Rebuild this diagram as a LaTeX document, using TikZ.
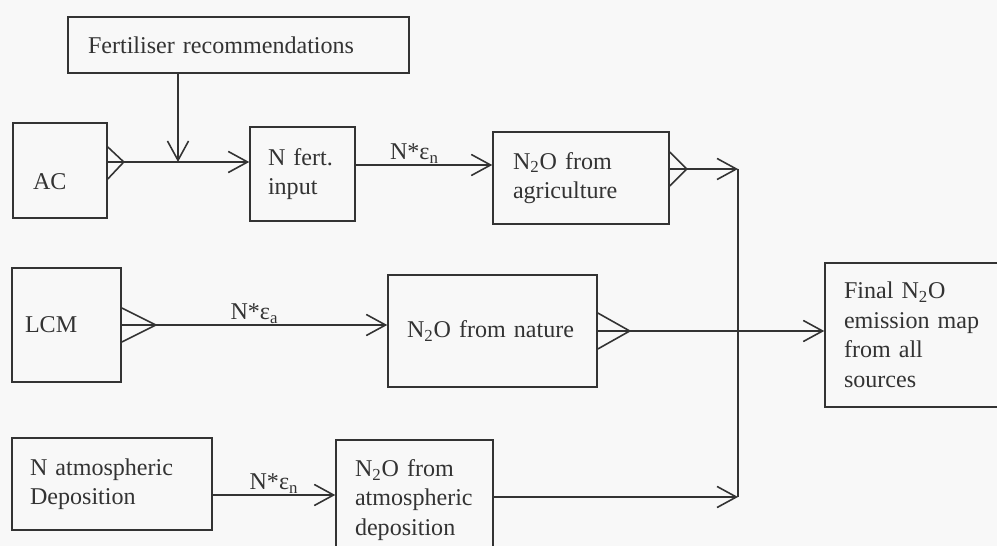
\documentclass[tikz,border=0pt]{standalone}
\usepackage{fontspec}
\setmainfont{Liberation Serif}
\usetikzlibrary{arrows.meta,calc}
\definecolor{inkgray}{HTML}{333333}
\definecolor{paper}{HTML}{F8F8F8}

\begin{document}
\begin{tikzpicture}[
 x=0.02cm,y=-0.02cm,
 >={Straight Barb[length=11pt,width=12pt]},
 font=\fontsize{13.7}{16.8}\selectfont,
 box/.style={draw=inkgray,line width=0.9pt,align=left,inner ysep=0pt,text=inkgray},
 flow/.style={->,line width=0.9pt,inkgray},
 wire/.style={line width=0.9pt,inkgray},
 lbl/.style={above,inner sep=0.5pt,text=inkgray}
]
\useasboundingbox (0,0) rectangle (997,546);
\fill[paper] (0,0) rectangle (997,546);
\clip (0,0) rectangle (997,546);

% boxes
\node[box,inner xsep=0.4cm,text width=6.02cm,minimum height=1.12cm] (fert) at (238.5,45) {Fertiliser recommendations};
\node[box,inner xsep=0.4cm,text width=1.08cm,minimum height=1.9cm,text height=0.88cm,text depth=0.1cm] (ac) at (60,170.5) {AC};
\node[box,inner xsep=0.36cm,text width=1.38cm,minimum height=1.88cm] (nfert) at (302.5,174) {N fert.\\input};
\node[box,inner xsep=0.4cm,text width=2.72cm,minimum height=1.84cm] (agri) at (581,178) {N\textsubscript{2}O from\\agriculture};
\node[box,inner xsep=0.26cm,text width=1.66cm,minimum height=2.28cm] (lcm) at (66.5,325) {LCM};
\node[box,inner xsep=0.38cm,text width=3.42cm,minimum height=2.24cm] (nat) at (492.5,331) {N\textsubscript{2}O from nature};
\node[box,inner xsep=0.38cm,text width=2.94cm,minimum height=2.88cm] (final) at (917.5,335) {Final N\textsubscript{2}O\\emission map\\from all\\sources};
\node[box,inner xsep=0.36cm,text width=3.28cm,minimum height=1.84cm] (ndep) at (112,484) {N atmospheric\\Deposition};
\node[box,inner xsep=0.38cm,text width=2.38cm,minimum height=2.4cm] (atm) at (414.5,500) {N\textsubscript{2}O from\\atmospheric\\deposition};

\coordinate (join) at (178,162);
\coordinate (bustop) at (738,169);
\coordinate (busbot) at (738,497);

% connectors
\draw[flow] (fert.south -| join) -- (join);
\draw[flow] (ac.east |- join) -- (nfert.west |- join);
\draw[wire] ($(ac.east |- join)+(0,-15)$) -- ++(16,15) -- ++(-16,17);
\draw[flow] (nfert.east |- 0,165) -- node[lbl,pos=.43] (epsfert) {N*ε\textsubscript{n}} (agri.west |- 0,165);
\draw[flow] (agri.east |- bustop) -- (bustop);
\draw[wire] ($(agri.east |- bustop)+(0,-17)$) -- ++(17,17) -- ++(-17,17);
\draw[flow] (lcm.east) -- node[lbl] (epslcm) {N*ε\textsubscript{a}} (nat.west |- lcm.east);
\draw[wire] ($(lcm.east)+(0,-17)$) -- ++(34,17) -- ++(-34,17);
\draw[flow] (nat.east) -- (final.west |- nat.east);
\draw[wire] ($(nat.east)+(0,-18)$) -- ++(32,18) -- ++(-32,18);
\draw[flow] (ndep.east |- 0,495) -- node[lbl] (epsdep) {N*ε\textsubscript{n}} (atm.west |- 0,495);
\draw[flow] (atm.east |- busbot) -- (busbot);
\draw[wire] (bustop) -- (busbot);
\end{tikzpicture}
\end{document}
